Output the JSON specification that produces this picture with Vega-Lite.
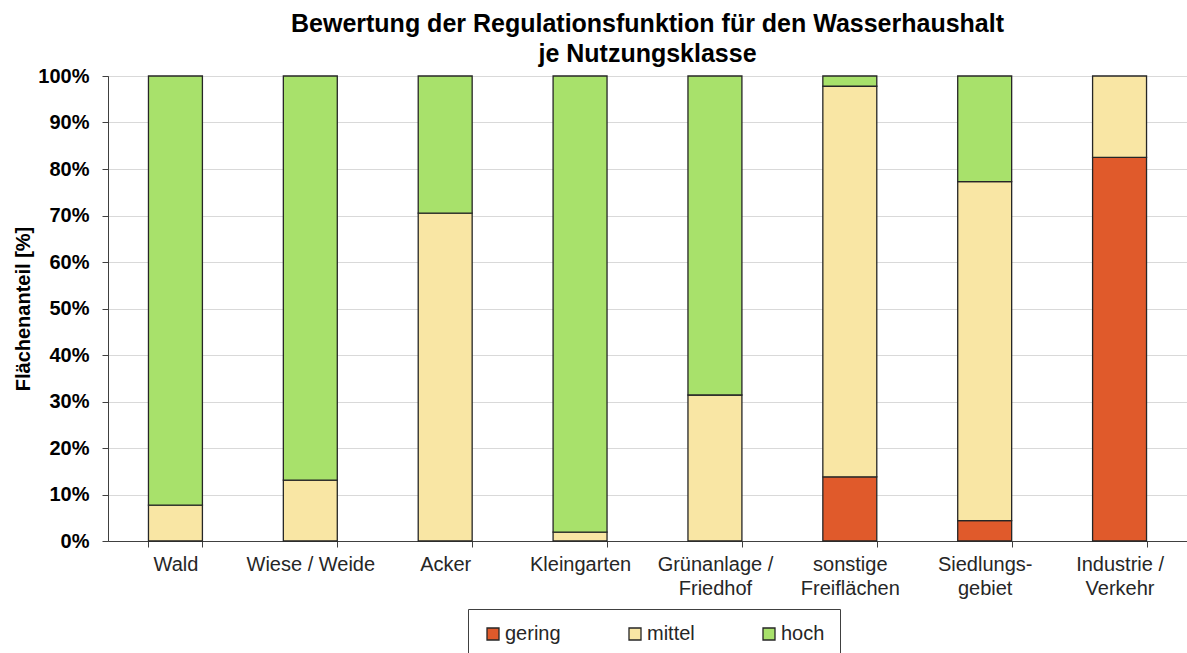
{
  "$schema": "https://vega.github.io/schema/vega-lite/v6.json",
  "autosize": {"type": "none"},
  "padding": {"left": 108, "top": 76, "right": 0, "bottom": 112},
  "width": 1079,
  "height": 465,
  "background": "white",
  "config": {
    "font": "Liberation Sans",
    "view": {"stroke": "#404040", "strokeWidth": 1}
  },
  "title": {
    "text": ["Bewertung der Regulationsfunktion für den Wasserhaushalt", "je Nutzungsklasse"],
    "font": "Liberation Sans",
    "fontSize": 25,
    "fontWeight": "bold",
    "color": "#000000",
    "anchor": "middle",
    "lineHeight": 30,
    "offset": -1
  },
  "data": {
    "values": [
      {"kat": "Wald", "klasse": "mittel", "r": 2, "wert": 0.077},
      {"kat": "Wald", "klasse": "hoch", "r": 3, "wert": 0.923},
      {"kat": "Wiese / Weide", "klasse": "mittel", "r": 2, "wert": 0.131},
      {"kat": "Wiese / Weide", "klasse": "hoch", "r": 3, "wert": 0.869},
      {"kat": "Acker", "klasse": "mittel", "r": 2, "wert": 0.705},
      {"kat": "Acker", "klasse": "hoch", "r": 3, "wert": 0.295},
      {"kat": "Kleingarten", "klasse": "mittel", "r": 2, "wert": 0.019},
      {"kat": "Kleingarten", "klasse": "hoch", "r": 3, "wert": 0.981},
      {"kat": "Grünanlage /|Friedhof", "klasse": "mittel", "r": 2, "wert": 0.314},
      {"kat": "Grünanlage /|Friedhof", "klasse": "hoch", "r": 3, "wert": 0.686},
      {"kat": "sonstige|Freiflächen", "klasse": "gering", "r": 1, "wert": 0.138},
      {"kat": "sonstige|Freiflächen", "klasse": "mittel", "r": 2, "wert": 0.840},
      {"kat": "sonstige|Freiflächen", "klasse": "hoch", "r": 3, "wert": 0.022},
      {"kat": "Siedlungs-|gebiet", "klasse": "gering", "r": 1, "wert": 0.044},
      {"kat": "Siedlungs-|gebiet", "klasse": "mittel", "r": 2, "wert": 0.729},
      {"kat": "Siedlungs-|gebiet", "klasse": "hoch", "r": 3, "wert": 0.227},
      {"kat": "Industrie /|Verkehr", "klasse": "gering", "r": 1, "wert": 0.825},
      {"kat": "Industrie /|Verkehr", "klasse": "mittel", "r": 2, "wert": 0.175}
    ]
  },
  "mark": {"type": "bar", "stroke": "#262626", "strokeWidth": 1.3},
  "encoding": {
    "x": {
      "field": "kat",
      "type": "nominal",
      "sort": null,
      "scale": {"paddingInner": 0.6, "paddingOuter": 0.3},
      "axis": {
        "title": null,
        "labelAngle": 0,
        "labelFont": "Liberation Sans",
        "labelFontSize": 20,
        "labelColor": "#262626",
        "labelLineHeight": 24,
        "labelPadding": 7,
        "labelExpr": "split(datum.label, '|')",
        "tickBand": "extent",
        "tickSize": 6,
        "tickColor": "#404040",
        "domainColor": "#404040",
        "grid": false
      }
    },
    "y": {
      "field": "wert",
      "type": "quantitative",
      "stack": "zero",
      "scale": {"domain": [0, 1], "nice": false},
      "axis": {
        "values": [0, 0.1, 0.2, 0.3, 0.4, 0.5, 0.6, 0.7, 0.8, 0.9, 1],
        "format": ".0%",
        "title": "Flächenanteil [%]",
        "titleFont": "Liberation Sans",
        "titleFontSize": 20,
        "titleFontWeight": "bold",
        "titleColor": "#000000",
        "titlePadding": 4,
        "labelFont": "Liberation Sans",
        "labelFontSize": 20,
        "labelFontWeight": "bold",
        "labelColor": "#000000",
        "labelPadding": 13,
        "tickSize": 6,
        "tickColor": "#404040",
        "domainColor": "#404040",
        "grid": true,
        "gridColor": "#d9d9d9"
      }
    },
    "color": {
      "field": "klasse",
      "type": "nominal",
      "scale": {"domain": ["gering", "mittel", "hoch"], "range": ["#E05A2B", "#F9E6A4", "#A8E16B"]},
      "legend": {
        "title": null,
        "orient": "none",
        "legendX": 360,
        "legendY": 533,
        "direction": "horizontal",
        "columns": 3,
        "columnPadding": 64,
        "padding": 15,
        "strokeColor": "#404040",
        "fillColor": "white",
        "symbolType": "square",
        "symbolSize": 144,
        "symbolStrokeColor": "#262626",
        "symbolStrokeWidth": 1.3,
        "labelFont": "Liberation Sans",
        "labelFontSize": 20,
        "labelColor": "#262626",
        "labelOffset": 2
      }
    },
    "order": {"field": "r", "type": "quantitative"}
  }
}
